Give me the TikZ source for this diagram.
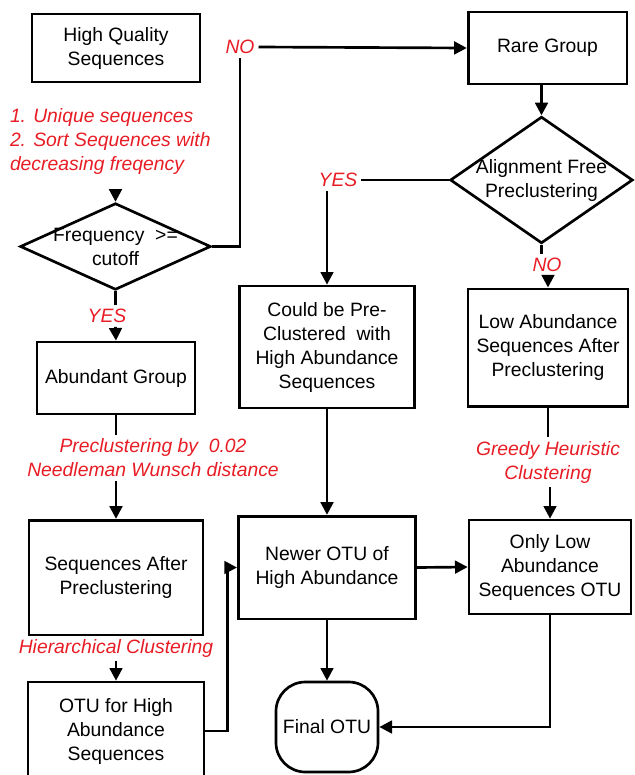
\documentclass[tikz,border=0pt]{standalone}
\usepackage{fontspec}
\setmainfont{Liberation Sans}
\usetikzlibrary{positioning,shapes.geometric,arrows.meta}
\definecolor{notered}{RGB}{232,28,36}

\begin{document}
\begin{tikzpicture}[%
		x=0.75pt, y=-0.75pt,
		>={Triangle[length=9.5pt,width=9.5pt]},
		line width=2pt,
		every node/.style={font=\fontsize{14.5}{18}\selectfont, align=center},
		block/.style={%
			draw,
			inner sep=0pt
		},
		decision/.style={%
			draw,
			diamond,
			inner sep=0pt
		},
		note/.style={%
			text=notered,
			font=\fontsize{14.5}{18}\selectfont\itshape,
			inner sep=2pt
		}
		]
		\useasboundingbox (0,0) rectangle (635,775);
		\clip (0,0) rectangle (635,775);

		% boxes
		\node[block, minimum width=126pt, minimum height=51pt] (hq) at (116,48) {High Quality\\Sequences};
		\node[decision, minimum width=143pt, minimum height=65pt, label={center:{Frequency\ \ >=\\cutoff}}] (freq) at (115.5,246.5) {};
		\node[block, minimum width=119pt, minimum height=54pt] (rare) at (547.5,48) {Rare Group};
		\node[decision, minimum width=137pt, minimum height=95pt, label={center:{Alignment Free\\Preclustering}}] (align) at (541.5,180) {};
		\node[block, minimum width=118.5pt, minimum height=54pt] (abund) at (116,378) {Abundant Group};
		\node[block, minimum width=131pt, minimum height=91.5pt] (could) at (327,347) {Could be Pre-\\Clustered\ \ with\\High Abundance\\Sequences};
		\node[block, minimum width=120pt, minimum height=88pt] (low) at (548,347.5) {Low Abundance\\Sequences After\\Preclustering};
		\node[block, minimum width=130.5pt, minimum height=86pt] (seqafter) at (116,577.5) {Sequences After\\Preclustering};
		\node[block, minimum width=133pt, minimum height=77pt] (newer) at (327,567.5) {Newer OTU of\\High Abundance};
		\node[block, minimum width=121.5pt, minimum height=70.5pt] (onlylow) at (550,567) {Only Low\\Abundance\\Sequences OTU};
		\node[block, minimum width=132pt, minimum height=73.5pt] (otuhigh) at (116,731) {OTU for High\\Abundance\\Sequences};
		\node[block, rounded corners=22pt, minimum width=76.5pt, minimum height=67.5pt] (final) at (327,727) {Final OTU};

		% red notes
		\node[note, anchor=west, align=left] (steps) at (6,141) {1. Unique sequences\\2. Sort Sequences with\\decreasing freqency};
		\node[note] (no1) at (240,47) {NO};
		\node[note] (yes1) at (107,316) {YES};
		\node[note] (yes2) at (338,180) {YES};
		\node[note] (no2) at (547,265) {NO};
		\node[note] (prelab) at (153,458) {Preclustering by\ \ 0.02\\Needleman Wunsch distance};
		\node[note] (greedy) at (548,462) {Greedy Heuristic\\Clustering};
		\node[note] (hier) at (116,648) {Hierarchical Clustering};

		% connectors
		\draw[->, shorten <=8pt] (steps.south -| freq.north) -- (freq.north);
		\draw (freq.east) -| (no1.south);
		\draw[->] (no1.east) -- (rare.west);
		\draw[->] (rare.south -| align.north) -- (align.north);
		\draw (align.west) -- (yes2.east);
		\draw[->] (yes2.south -| could.north) -- (could.north);
		\draw (align.south) -- (align.south |- no2.north);
		\draw[->] (no2.south -| low.north) -- (low.north);
		\draw (freq.south) -- (freq.south |- yes1.north);
		\draw[->] (freq.south |- yes1.south) -- (abund.north);
		\draw (abund.south) -- (abund.south |- prelab.north);
		\draw[->] (abund.south |- prelab.south) -- (seqafter.north);
		\draw (seqafter.south) -- (seqafter.south |- hier.north);
		\draw[->] (seqafter.south |- hier.south) -- (otuhigh.north);
		\draw (low.south) -- (low.south |- greedy.north);
		\draw[->] (greedy.south -| onlylow.north) -- (onlylow.north);
		\draw[->] (could.south) -- (newer.north);
		\draw[->] (otuhigh.east) -- ++(22,0) |- (newer.west);
		\draw[->] (newer.east) -- (onlylow.west);
		\draw[->] (newer.south) -- (final.north);
		\draw[->] (onlylow.south) |- (final.east);
\end{tikzpicture}
\end{document}
